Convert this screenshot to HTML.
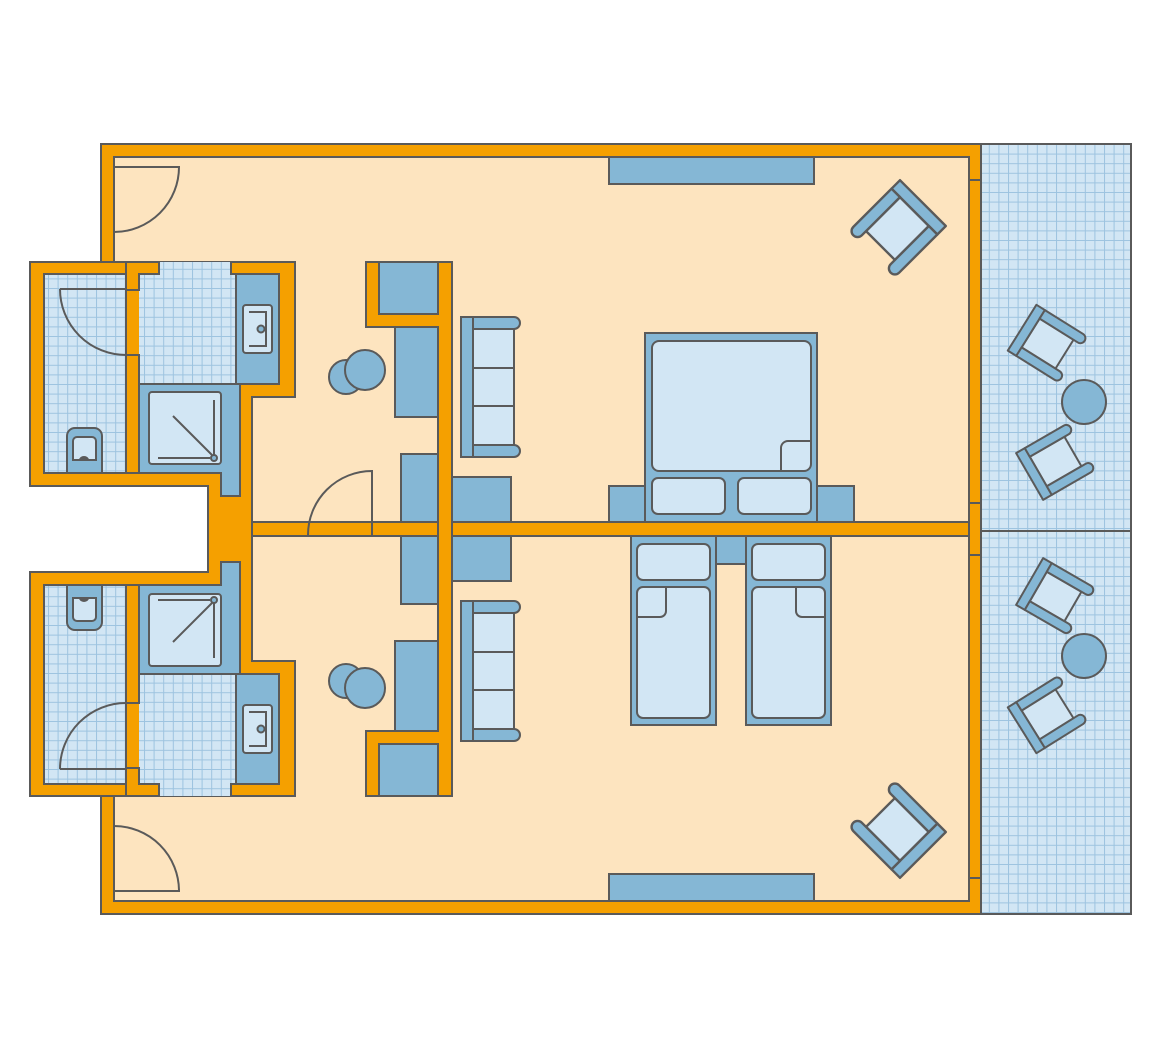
<!DOCTYPE html>
<html><head><meta charset="utf-8"><style>html,body{margin:0;padding:0;background:#fff}svg{display:block}</style></head>
<body>
<svg width="1161" height="1057" viewBox="0 0 1161 1057" xmlns="http://www.w3.org/2000/svg">
<defs>
<pattern id="grid" width="9.6" height="9.6" patternUnits="userSpaceOnUse">
<rect width="9.6" height="9.6" fill="#d2e6f4"/>
<path d="M0 0.5H9.6M0.5 0V9.6" stroke="#9dc3df" stroke-width="1"/>
</pattern>
<g id="chair" stroke="#5a5a5a" stroke-width="2" stroke-linejoin="round">
<rect x="-17" y="-17" width="34" height="40" fill="#d2e6f4"/>
<rect x="-27" y="-27" width="54" height="10" fill="#85b7d5"/>
<path d="M-27 -17H-17V28A5 5 0 0 1 -27 28Z" fill="#85b7d5"/>
<path d="M17 -17H27V28A5 5 0 0 1 17 28Z" fill="#85b7d5"/>
</g>
<g id="half" stroke="#5a5a5a" stroke-width="2">
<path d="M30 262H295V397H252V529H208V486H30Z" fill="#f5a000"/>
<rect x="44" y="274" width="82" height="199" fill="url(#grid)"/>
<path d="M139 274H159V262H231V274H236V384H139Z" fill="url(#grid)" stroke="none"/>
<path d="M126 262H159V274H139V290H126Z" fill="#f5a000"/>
<path d="M159 262V274M231 262V274H236" fill="none"/>
<rect x="126" y="355" width="13" height="118" fill="#f5a000"/>
<rect x="236" y="274" width="43" height="110" fill="#85b7d5"/>
<rect x="243" y="305" width="29" height="48" rx="3" fill="#d2e6f4"/>
<path d="M249 312H266V346H249" fill="none"/>
<circle cx="261" cy="329" r="3.5" fill="#85b7d5"/>
<path d="M139 384H240V496H221V473H139Z" fill="#85b7d5"/>
<rect x="149" y="392" width="72" height="72" rx="3" fill="#d2e6f4"/>
<path d="M173 416L212 455M214 400V455M158 458H210" fill="none"/>
<circle cx="214" cy="458" r="3" fill="#85b7d5"/>
<path d="M67 473V436A8 8 0 0 1 75 428H94A8 8 0 0 1 102 436V473Z" fill="#85b7d5"/>
<path d="M73 460V441A4 4 0 0 1 77 437H92A4 4 0 0 1 96 441V460Z" fill="#d2e6f4"/>
<path d="M80 460A4 3 0 0 1 88 460Z" fill="#5a5a5a"/>
<path d="M60 289H126M60 289A66 66 0 0 0 126 355" fill="none"/>
<path d="M114 167H179A65 65 0 0 1 114 232" fill="none"/>
<path d="M366 262H452V529H438V327H366Z" fill="#f5a000"/>
<rect x="379" y="262" width="59" height="52" fill="#85b7d5"/>
<rect x="395" y="327" width="43" height="90" fill="#85b7d5"/>
<rect x="401" y="454" width="37" height="68" fill="#85b7d5"/>
<rect x="452" y="477" width="59" height="45" fill="#85b7d5"/>
<circle cx="346" cy="377" r="17" fill="#85b7d5"/>
<circle cx="365" cy="370" r="20" fill="#85b7d5"/>
<rect x="461" y="317" width="12" height="140" fill="#85b7d5"/>
<path d="M473 317H514A5 5 0 0 1 514 329H473Z" fill="#85b7d5"/>
<path d="M473 445H514A5 5 0 0 1 514 457H473Z" fill="#85b7d5"/>
<rect x="473" y="329" width="41" height="116" fill="#d2e6f4"/>
<path d="M473 368H514M473 406H514" fill="none"/>
<rect x="609" y="157" width="205" height="27" fill="#85b7d5"/>
<use href="#chair" transform="translate(900,226) rotate(45) scale(1.2)"/>
<use href="#chair" transform="translate(1045,342) rotate(-58)"/>
<use href="#chair" transform="translate(1053,463) rotate(-120)"/>
<circle cx="1084" cy="402" r="22" fill="#85b7d5"/>
<path d="M969 180H981M969 503H981" fill="none"/>
</g>
</defs>

<rect x="101" y="144" width="880" height="770" fill="#f5a000" stroke="#5a5a5a" stroke-width="2"/>
<rect x="114" y="157" width="855" height="744" fill="#fde4bf" stroke="#5a5a5a" stroke-width="2"/>
<rect x="981" y="144" width="150" height="770" fill="url(#grid)" stroke="#5a5a5a" stroke-width="2"/>
<line x1="981" y1="531" x2="1131" y2="531" stroke="#5a5a5a" stroke-width="2"/>
<rect x="252" y="522" width="717" height="14" fill="#f5a000" stroke="#5a5a5a" stroke-width="2"/>

<use href="#half"/>
<use href="#half" transform="matrix(1 0 0 -1 0 1058)"/>
<rect x="99" y="487" width="109" height="84" fill="#fff"/>
<rect x="209" y="487" width="42" height="84" fill="#f5a000"/>
<g stroke="#5a5a5a" stroke-width="2" fill="#85b7d5">
<path d="M221 474V496H240V474"/>
<path d="M221 584V562H240V584"/>
</g>
<rect x="439" y="523" width="12" height="12" fill="#f5a000"/>
<path d="M30 486H208V572H30M252 522V536" fill="none" stroke="#5a5a5a" stroke-width="2"/>

<path d="M372 535V471A64 64 0 0 0 308 535" fill="none" stroke="#5a5a5a" stroke-width="2"/>

<g stroke="#5a5a5a" stroke-width="2">
<rect x="609" y="486" width="36" height="36" fill="#85b7d5"/>
<rect x="817" y="486" width="37" height="36" fill="#85b7d5"/>
<rect x="645" y="333" width="172" height="189" fill="#85b7d5"/>
<rect x="652" y="341" width="159" height="130" rx="7" fill="#d2e6f4"/>
<path d="M781 471V448A7 7 0 0 1 788 441H811" fill="none"/>
<rect x="652" y="478" width="73" height="36" rx="6" fill="#d2e6f4"/>
<rect x="738" y="478" width="73" height="36" rx="6" fill="#d2e6f4"/>
<rect x="716" y="536" width="30" height="28" fill="#85b7d5"/>
<rect x="631" y="536" width="85" height="189" fill="#85b7d5"/>
<rect x="637" y="544" width="73" height="36" rx="6" fill="#d2e6f4"/>
<rect x="637" y="587" width="73" height="131" rx="6" fill="#d2e6f4"/>
<path d="M637 617H660A6 6 0 0 0 666 611V587" fill="none"/>
<rect x="746" y="536" width="85" height="189" fill="#85b7d5"/>
<rect x="752" y="544" width="73" height="36" rx="6" fill="#d2e6f4"/>
<rect x="752" y="587" width="73" height="131" rx="6" fill="#d2e6f4"/>
<path d="M825 617H802A6 6 0 0 1 796 611V587" fill="none"/>
</g>
</svg>
</body></html>
